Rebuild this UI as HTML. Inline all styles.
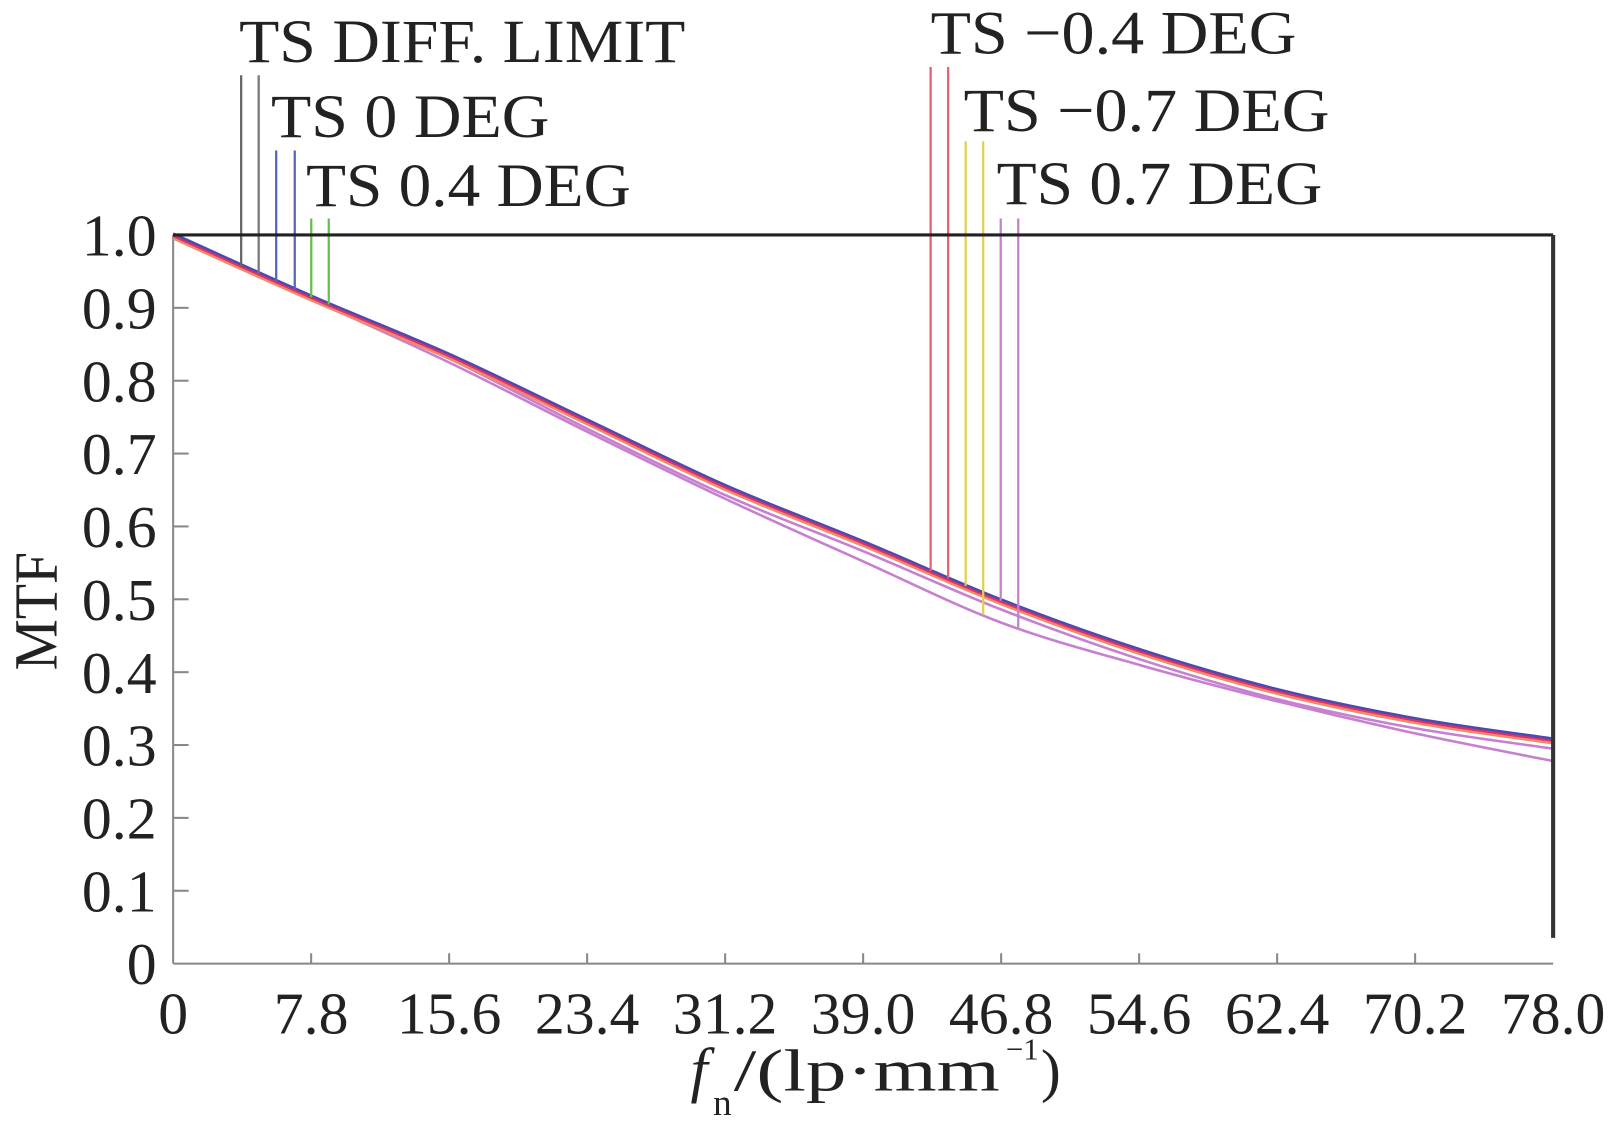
<!DOCTYPE html>
<html><head><meta charset="utf-8"><style>
html,body{margin:0;padding:0;background:#fff;}
svg{display:block;}
text{font-family:"Liberation Serif",serif;fill:#222;}
</style></head><body>
<svg id="s" width="1616" height="1138" viewBox="0 0 1568 1104.2" xmlns="http://www.w3.org/2000/svg">
<rect width="1568" height="1105" fill="#fff"/>
<line x1="168" y1="228" x2="168" y2="935" stroke="#888" stroke-width="2"/>
<line x1="168" y1="935" x2="1507" y2="935" stroke="#888" stroke-width="2"/>
<g id="ticks" stroke="#888" stroke-width="2"></g>
<g id="curves" fill="none" stroke-linejoin="round"></g>
<g id="marks" stroke-width="2.2"></g>
<line x1="168" y1="228" x2="1507" y2="228" stroke="#222" stroke-width="3"/>
<line x1="1507" y1="228" x2="1507" y2="910" stroke="#333" stroke-width="4"/>
<g id="labels" font-size="58"></g>
<g font-size="60">
<text x="232" y="60" textLength="433" lengthAdjust="spacingAndGlyphs">TS DIFF. LIMIT</text>
<text x="263" y="133" textLength="270" lengthAdjust="spacingAndGlyphs">TS 0 DEG</text>
<text x="297" y="200" textLength="315" lengthAdjust="spacingAndGlyphs">TS 0.4 DEG</text>
<text x="903" y="52" textLength="355" lengthAdjust="spacingAndGlyphs">TS −0.4 DEG</text>
<text x="935" y="127" textLength="355" lengthAdjust="spacingAndGlyphs">TS −0.7 DEG</text>
<text x="967" y="198" textLength="316" lengthAdjust="spacingAndGlyphs">TS 0.7 DEG</text>
</g>
<text x="0" y="0" font-size="60" transform="translate(55,593) rotate(-90)" text-anchor="middle" textLength="115" lengthAdjust="spacingAndGlyphs">MTF</text>
<text x="670" y="1058" font-size="60" font-style="italic">f</text>
<text x="692" y="1082" font-size="36">n</text>
<text x="712" y="1058" font-size="58" textLength="258" lengthAdjust="spacingAndGlyphs">/(lp·mm</text>
<text x="976" y="1028" font-size="30">−1</text>
<text x="1010" y="1058" font-size="58">)</text>
</svg>
<script>
var NS="http://www.w3.org/2000/svg";
function X(f){return 168+f*(1339/78);}
function Y(v){return 935-v*707;}
function el(p,t,a){var e=document.createElementNS(NS,t);for(var k in a)e.setAttribute(k,a[k]);document.getElementById(p).appendChild(e);return e;}
for(var i=0;i<=10;i++){
 var f=7.8*i, x=X(f);
 if(i>0&&i<10) el("ticks","line",{x1:x,y1:935,x2:x,y2:925});
 var t=el("labels","text",{x:x,y:1003,"text-anchor":"middle"}); t.textContent=i==0?"0":f.toFixed(1);
 var v=i/10,y=Y(v);
 if(i>0&&i<10) el("ticks","line",{x1:168,y1:y,x2:183,y2:y});
 var t2=el("labels","text",{x:152,y:y+20,"text-anchor":"end"}); t2.textContent=i==0?"0":v.toFixed(1);
}
function path(pts,dy){
 var P=pts.map(function(p){return [X(p[0]),Y(p[1])+dy];});
 var d="M"+P[0][0]+","+P[0][1];
 for(var i=0;i<P.length-1;i++){
  var p0=P[Math.max(i-1,0)],p1=P[i],p2=P[i+1],p3=P[Math.min(i+2,P.length-1)];
  var c1=[p1[0]+(p2[0]-p0[0])/6,p1[1]+(p2[1]-p0[1])/6],c2=[p2[0]-(p3[0]-p1[0])/6,p2[1]-(p3[1]-p1[1])/6];
  d+="C"+c1+" "+c2+" "+p2;
 }
 return d;
}
var main=[[0,1],[7.8,0.915],[15.6,0.835],[23.4,0.745],[31.2,0.655],[39,0.578],[46.8,0.498],[54.6,0.43],[62.4,0.375],[70.2,0.335],[78,0.307]];
var low=[[0,1],[7.8,0.912],[15.6,0.825],[23.4,0.73],[31.2,0.638],[39,0.552],[46.8,0.468],[54.6,0.41],[62.4,0.36],[70.2,0.316],[78,0.278]];
var mid=main.map(function(p){return [p[0],p[1]-(p[0]>10?0.012*Math.min(1,(p[0]-10)/15):0)];});
el("curves","path",{d:path(mid,0),stroke:"#c77fcf","stroke-width":2.5});
el("curves","path",{d:path(low,0),stroke:"#c77fcf","stroke-width":2.5});
el("curves","path",{d:path(main,3),stroke:"#f08a6a","stroke-width":3});
el("curves","path",{d:path(main,-1),stroke:"#4a4ab0","stroke-width":3});
el("curves","path",{d:path(main,1),stroke:"#e0306a","stroke-width":2});
var m=[[234,73,"#666"],[251,73,"#777"],[268,146,"#5566c0"],[286,146,"#5566c0"],[302,212,"#66c050"],[319,212,"#66c050"],
[903,65,"#e86070"],[920,65,"#e86070"],[937,137,"#e0d050"],[954,137,"#e0d050"],[971,212,"#c77fcf"],[988,212,"#c77fcf"]];
function valAt(pts,f){for(var i=0;i<pts.length-1;i++){if(f<=pts[i+1][0]){var t=(f-pts[i][0])/(pts[i+1][0]-pts[i][0]);return pts[i][1]+t*(pts[i+1][1]-pts[i][1]);}}return pts[pts.length-1][1];}
m.forEach(function(a,i){
 var f=(a[0]-168)/(1339/78);
 var pts=(i==9||i==11)?low:main;
 var yb=Y(valAt(pts,f));
 el("marks","line",{x1:a[0],y1:a[1],x2:a[0],y2:yb,stroke:a[2]});
});
</script>
</body></html>
